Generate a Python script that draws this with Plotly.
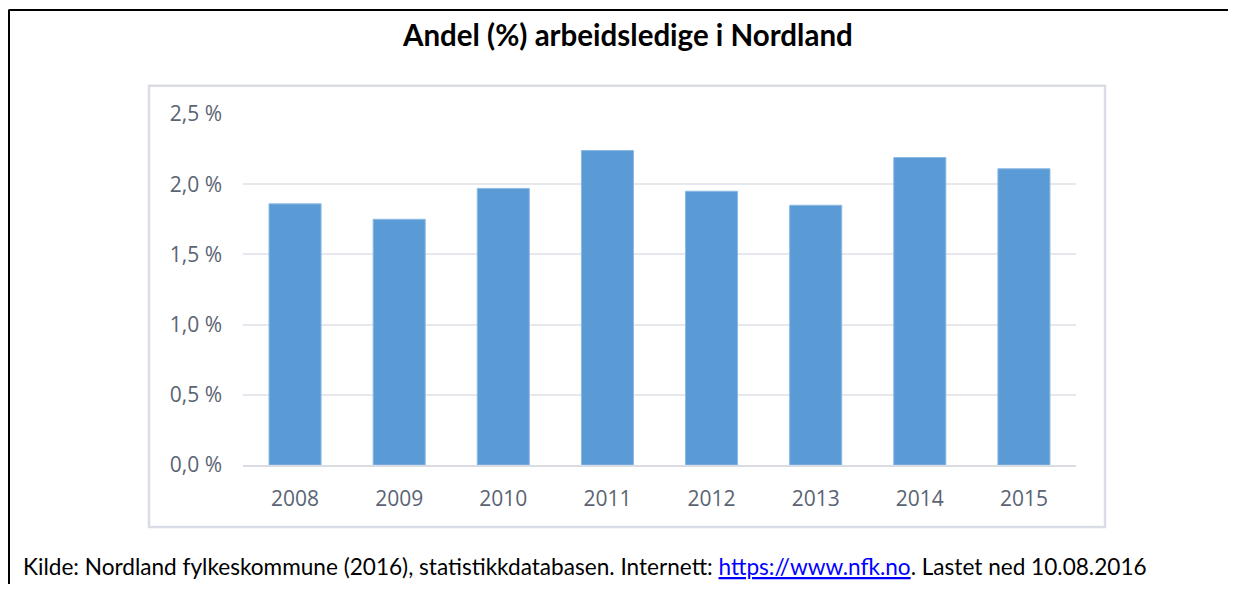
import plotly.graph_objects as go

years = ["2008", "2009", "2010", "2011", "2012", "2013", "2014", "2015"]
values = [1.86, 1.75, 1.97, 2.24, 1.95, 1.85, 2.19, 2.11]
y_ticks = [0.0, 0.5, 1.0, 1.5, 2.0, 2.5]
y_tick_labels = [f"{v:.1f}".replace(".", ",") + " %" for v in y_ticks]

title_text = "Andel (%) arbeidsledige i Nordland"
source_text = ("Kilde: Nordland fylkeskommune (2016), statistikkdatabasen. Internett: "
               "<a href='https://www.nfk.no'><span style='color:#0000ff'><u>https://www.nfk.no</u></span></a>"
               ". Lastet ned 10.08.2016")

# page offset of the figure (default body margin)
OX, OY = 8, 8
W, H = 1220, 576
# plot area in page pixels
PL, PR, PT, PB = 243, 1076, 114.3, 465

def px(x):
    return (x - PL) / (PR - PL)

def py(y):
    return (PB - y) / (PB - PT)

fig = go.Figure()
fig.add_trace(go.Bar(
    x=years, y=values,
    marker=dict(color="#5b9bd5", line=dict(color="#8cb9e6", width=1)),
    width=0.5,
    hoverinfo="x+y",
))

shapes = [
    # chart area box
    dict(type="rect", xref="paper", yref="paper",
         x0=px(149), x1=px(1105), y0=py(527), y1=py(86),
         line=dict(color="#dadde5", width=2.5), layer="below"),
    # outer black frame (top and left)
    dict(type="line", xref="paper", yref="paper",
         x0=px(8.5), x1=px(1240), y0=py(10.5), y1=py(10.5),
         line=dict(color="#000000", width=2)),
    dict(type="line", xref="paper", yref="paper",
         x0=px(9), x1=px(9), y0=py(10.5), y1=py(600),
         line=dict(color="#000000", width=2)),
]

annotations = [
    dict(text="<b>" + title_text + "</b>", xref="paper", yref="paper",
         x=px(627), y=py(35), xanchor="center", yanchor="middle", showarrow=False,
         font=dict(family="Lato", size=29.5, color="#000000")),
    dict(text=source_text, xref="paper", yref="paper",
         x=px(21), y=py(566), xanchor="left", yanchor="middle", showarrow=False,
         font=dict(family="Lato", size=22.6, color="#000000")),
]

fig.update_layout(
    width=W, height=H,
    margin=dict(l=PL - OX, r=W - (PR - OX), t=PT - OY, b=H - (PB - OY), pad=0),
    paper_bgcolor="white", plot_bgcolor="white",
    showlegend=False,
    shapes=shapes,
    annotations=annotations,
    xaxis=dict(
        type="category",
        showgrid=False, showline=True, linecolor="#d9dce3", linewidth=1.5,
        ticks="", tickfont=dict(family="Open Sans", size=21, color="#5a6473"),
        ticklabelstandoff=14, fixedrange=True,
    ),
    yaxis=dict(
        range=[0, 2.5], tickmode="array", tickvals=y_ticks, ticktext=y_tick_labels,
        showgrid=True, gridcolor="#e6e8ed", gridwidth=1.5,
        zeroline=False, showline=False, ticks="",
        tickfont=dict(family="Open Sans", size=21, color="#5a6473"),
        ticklabelstandoff=20, fixedrange=True,
    ),
)

fig.write_html("out.html")
